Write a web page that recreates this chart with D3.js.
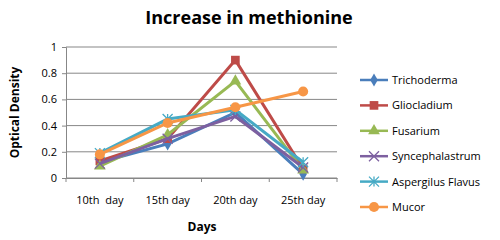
<!DOCTYPE html>
<html>
<head>
<meta charset="utf-8">
<script src="https://cdn.jsdelivr.net/npm/d3@7"></script>
<style>
body { margin: 0; background: #fff; }
text { font-family: "Open Sans", "Liberation Sans", sans-serif; }
</style>
</head>
<body>
<div id="chart"></div>
<script>
var days = ["10th  day", "15th day", "20th day", "25th day"];
var yTicks = [0, 0.2, 0.4, 0.6, 0.8, 1];
var trichoderma = [0.12, 0.26, 0.50, 0.03];
var gliocladium = [0.13, 0.30, 0.90, 0.07];
var fusarium = [0.09, 0.33, 0.74, 0.06];
var syncephalastrum = [0.11, 0.30, 0.47, 0.08];
var aspergilus = [0.19, 0.45, 0.52, 0.12];
var mucor = [0.18, 0.42, 0.54, 0.66];

var series = [
  {name: "Trichoderma", values: trichoderma, color: "#4a7ebb", shape: "diamond"},
  {name: "Gliocladium", values: gliocladium, color: "#be4b48", shape: "square"},
  {name: "Fusarium", values: fusarium, color: "#98b954", shape: "triangle"},
  {name: "Syncephalastrum", values: syncephalastrum, color: "#7d60a0", shape: "x"},
  {name: "Aspergilus Flavus", values: aspergilus, color: "#46aac5", shape: "star"},
  {name: "Mucor", values: mucor, color: "#f79646", shape: "circle"}
];

var margin = {top: 47, left: 66};
var width = 271, height = 131;

var svg = d3.select("#chart").append("svg")
  .attr("width", 500).attr("height", 240);

svg.append("text")
  .attr("x", 249).attr("y", 24)
  .attr("text-anchor", "middle")
  .style("font-size", "18px").style("font-weight", "bold")
  .text("Increase in methionine");

var g = svg.append("g")
  .attr("transform", "translate(" + margin.left + "," + margin.top + ")");

var x = d3.scaleBand().domain(days).range([0, width]);
var y = d3.scaleLinear().domain([0, 1]).range([height, 0]);

// gridlines
g.selectAll(".grid").data(yTicks).enter().append("line")
  .attr("x1", 0).attr("x2", width)
  .attr("y1", function(d) { return y(d); })
  .attr("y2", function(d) { return y(d); })
  .attr("stroke", "#878787").attr("stroke-width", 1);

var yAxis = g.append("g").call(d3.axisLeft(y).tickValues(yTicks).tickSize(4).tickFormat(d3.format("")));
yAxis.select(".domain").attr("stroke", "#878787");
yAxis.selectAll(".tick line").attr("stroke", "#878787");
yAxis.selectAll("text").style("font-size", "11px").attr("fill", "#000").attr("x", -9);

var xAxis = g.append("g").attr("transform", "translate(0," + height + ")")
  .call(d3.axisBottom(x).tickSize(0));
xAxis.select(".domain").attr("stroke", "#878787");
xAxis.selectAll("text").style("font-size", "11px").attr("fill", "#000").attr("y", 18)
  .style("white-space", "pre");
// category separator ticks
g.selectAll(".sep").data(d3.range(days.length + 1)).enter().append("line")
  .attr("x1", function(i) { return i * x.bandwidth(); })
  .attr("x2", function(i) { return i * x.bandwidth(); })
  .attr("y1", height).attr("y2", height + 4)
  .attr("stroke", "#878787");

svg.append("text")
  .attr("transform", "translate(19," + (margin.top + height / 2) + ") rotate(-90)")
  .attr("text-anchor", "middle")
  .style("font-size", "12px").style("font-weight", "bold")
  .text("Optical Density");

svg.append("text")
  .attr("x", 202).attr("y", 231)
  .attr("text-anchor", "middle")
  .style("font-size", "12px").style("font-weight", "bold")
  .text("Days");

function drawMarker(sel, shape, color) {
  if (shape === "x" || shape === "star") {
    var s = 5;
    var p = "M" + (-s) + "," + (-s) + "L" + s + "," + s + "M" + (-s) + "," + s + "L" + s + "," + (-s);
    if (shape === "star") p += "M0," + (-s) + "L0," + s;
    sel.append("path").attr("d", p).attr("stroke", color).attr("stroke-width", 1.3).attr("fill", "none");
  } else {
    var sym = {diamond: d3.symbolDiamond, square: d3.symbolSquare, triangle: d3.symbolTriangle, circle: d3.symbolCircle}[shape];
    var size = {diamond: 50, square: 75, triangle: 60, circle: 80}[shape];
    sel.append("path").attr("d", d3.symbol().type(sym).size(size)).attr("fill", color);
  }
}

var line = d3.line()
  .x(function(d, i) { return x(days[i]) + x.bandwidth() / 2; })
  .y(function(d) { return y(d); });

series.forEach(function(s) {
  g.append("path").datum(s.values)
    .attr("fill", "none").attr("stroke", s.color).attr("stroke-width", 3)
    .attr("d", line);
  s.values.forEach(function(v, i) {
    var m = g.append("g").attr("transform", "translate(" + (x(days[i]) + x.bandwidth() / 2) + "," + y(v) + ")");
    drawMarker(m, s.shape, s.color);
  });
});

var legend = svg.append("g").attr("transform", "translate(360,80)");
series.forEach(function(s, i) {
  var row = legend.append("g").attr("transform", "translate(0," + (i * 25.4) + ")");
  row.append("line").attr("x1", 0).attr("x2", 28).attr("stroke", s.color).attr("stroke-width", 2.5);
  drawMarker(row.append("g").attr("transform", "translate(14,0)"), s.shape, s.color);
  row.append("text").attr("x", 32).attr("y", 4).style("font-size", "11px").text(s.name);
});
</script>
</body>
</html>
